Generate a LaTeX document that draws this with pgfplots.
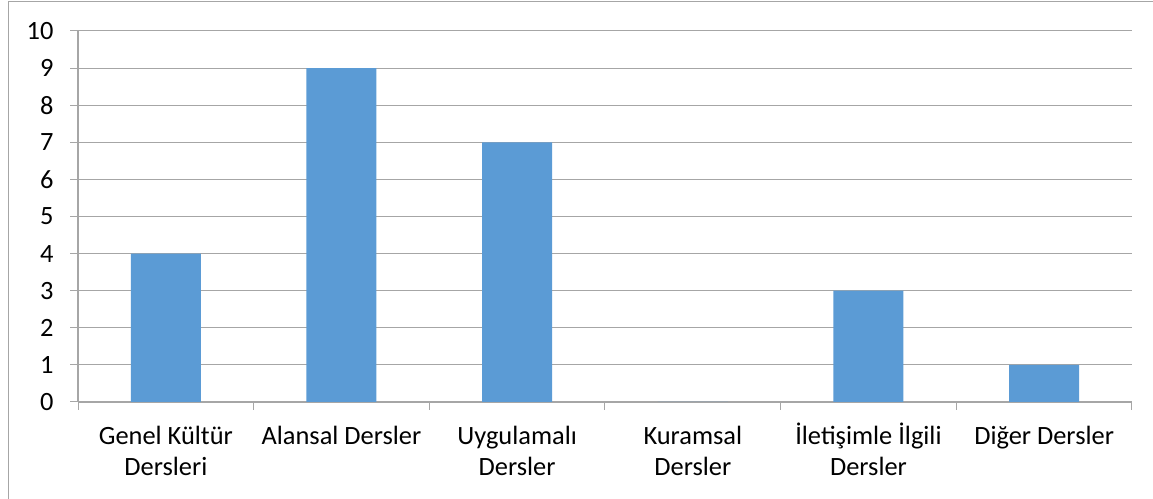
\documentclass[border=0pt]{standalone}
\usepackage{pgfplots}
\pgfplotsset{compat=1.18}
\usepackage{fontspec}
\setmainfont{Carlito}
\definecolor{barblue}{HTML}{5B9BD5}
\definecolor{gridgray}{HTML}{A6A6A6}
\definecolor{framegray}{HTML}{A6A6A6}
\newcommand{\ph}{\vphantom{İ}}
\begin{document}
\begin{tikzpicture}[x=1bp,y=1bp]
\useasboundingbox (0,0) rectangle (1153,499);
\draw[framegray, line width=1.2bp] (8.3,0) -- (8.3,497.8) -- (1153,497.8);
\begin{axis}[
  at={(78bp,97bp)}, anchor=south west,
  scale only axis,
  width=1054bp, height=371bp,
  xmin=-0.5, xmax=5.5,
  ymin=0, ymax=10,
  ytick={0,1,...,10},
  xtick={0,...,5},
  xticklabels={{\ph Genel Kültür\\Dersleri},{\ph Alansal Dersler},{\ph Uygulamalı\\Dersler},{\ph Kuramsal\\Dersler},{\ph İletişimle İlgili\\Dersler},{\ph Diğer Dersler}},
  minor xtick={-0.5,0.5,...,5.5},
  major x tick style={draw=none},
  tick align=outside,
  major tick length=8bp,
  minor tick length=8bp,
  tick style={gridgray, line width=1bp},
  axis x line*=bottom,
  axis y line*=left,
  axis line style={gridgray, line width=1.2bp, -},
  ymajorgrids,
  grid style={gridgray, line width=1bp},
  ybar, bar width=70bp,
  /pgf/number format/assume math mode=true,
  tick label style={font=\fontsize{26.5}{32}\selectfont, text=black},
  xticklabel style={align=center, yshift=-9bp},
  yticklabel style={xshift=-13bp},
]
\addplot[fill=barblue, draw=none] coordinates {(0,4) (1,9) (2,7) (3,0) (4,3) (5,1)};
\end{axis}
\end{tikzpicture}
\end{document}
